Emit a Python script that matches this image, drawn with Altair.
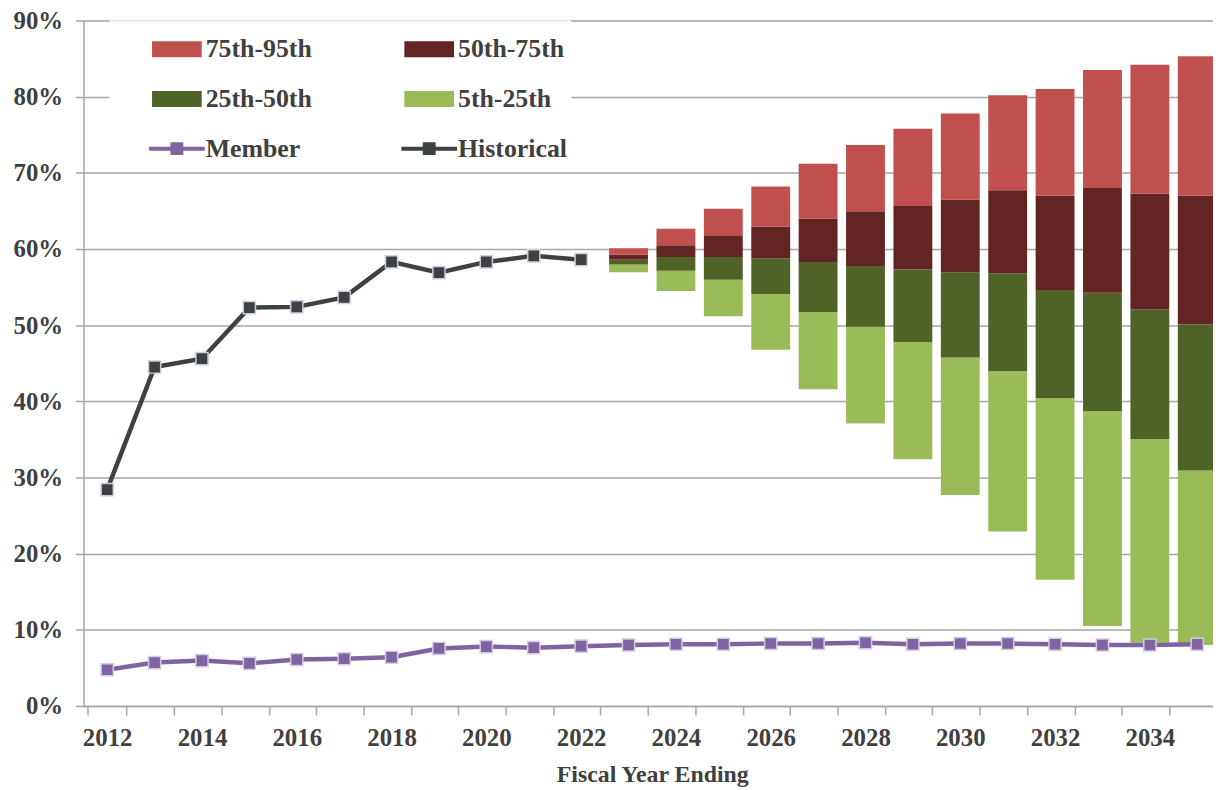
import altair as alt
import pandas as pd

# ---------------- data ----------------
years_all = list(range(2012, 2036))

hist_years = list(range(2012, 2023))
hist_vals = [28.4, 44.5, 45.6, 52.3, 52.4, 53.65, 58.3, 56.9, 58.3, 59.1, 58.6]

member_years = list(range(2012, 2036))
member_vals = [4.75, 5.7, 5.96, 5.6, 6.1, 6.2, 6.4, 7.55, 7.8, 7.65, 7.85, 8.0,
               8.1, 8.1, 8.2, 8.2, 8.3, 8.1, 8.2, 8.2, 8.1, 8.0, 8.0, 8.1]

proj_years = list(range(2023, 2036))
p95 = [60.1, 62.65, 65.3, 68.2, 71.2, 73.65, 75.8, 77.8, 80.2, 81.0, 83.5, 84.2, 85.3]
p75 = [59.25, 60.5, 61.8, 62.95, 64.0, 64.95, 65.65, 66.5, 67.7, 67.0, 68.0, 67.3, 67.0]
p50 = [58.6, 58.96, 58.96, 58.78, 58.3, 57.78, 57.3, 56.96, 56.8, 54.6, 54.26, 52.1, 50.1]
p25 = [57.95, 57.13, 55.95, 54.09, 51.74, 49.78, 47.78, 45.74, 43.96, 40.4, 38.74, 35.05, 30.9]
p5 = [56.96, 54.5, 51.17, 46.78, 41.6, 37.1, 32.4, 27.7, 22.9, 16.56, 10.5, 8.3, 8.0]

series_domain = ["75th-95th", "50th-75th", "25th-50th", "5th-25th", "Member", "Historical"]
series_colors = ["#C0504D", "#632523", "#4F6228", "#9BBB59", "#8064A2", "#3B4240"]

# ---------------- tables ----------------
rows = []
for i, yr in enumerate(proj_years):
    rows.append({"year": yr, "series": "5th-25th", "lo": p5[i], "hi": p25[i]})
    rows.append({"year": yr, "series": "25th-50th", "lo": p25[i], "hi": p50[i]})
    rows.append({"year": yr, "series": "50th-75th", "lo": p50[i], "hi": p75[i]})
    rows.append({"year": yr, "series": "75th-95th", "lo": p75[i], "hi": p95[i]})
bars_df = pd.DataFrame(rows)

lines_df = pd.concat([
    pd.DataFrame({"year": hist_years, "value": hist_vals, "series": "Historical"}),
    pd.DataFrame({"year": member_years, "value": member_vals, "series": "Member"}),
], ignore_index=True)

legend_df = pd.DataFrame({"series": series_domain})

# ---------------- styling ----------------
FONT = "Liberation Serif"
TXT = "#404040"
GRID = "#A6A6A6"

bar_path = "M-1,-0.32H1V0.32H-1Z"
line_path = ("M-1.12,-0.08H-0.26V-0.26H0.26V-0.08H1.12V0.08H0.26V0.26H-0.26V0.08H-1.12Z")
shape_range = [bar_path] * 4 + [line_path] * 2

color_scale = alt.Scale(domain=series_domain, range=series_colors)
y_scale = alt.Scale(domain=[0, 90], nice=False)

x_enc = alt.X(
    "year:O",
    scale=alt.Scale(domain=years_all, paddingInner=0.18, paddingOuter=0.09),
    axis=alt.Axis(
        title="Fiscal Year Ending",
        labelExpr="datum.value % 2 == 0 ? datum.value : ''",
        labelAngle=0,
        labelFont=FONT, labelFontSize=25, labelFontWeight="bold", labelColor=TXT,
        labelPadding=11,
        titleFont=FONT, titleFontSize=24, titleFontWeight="bold", titleColor=TXT,
        titlePadding=12,
        tickBand="extent", tickSize=9, tickColor=GRID, tickWidth=1.5,
        domainColor=GRID, domainWidth=1.5,
        grid=False,
    ),
)

y_axis = alt.Axis(
    values=list(range(0, 100, 10)),
    labelExpr="datum.value + '%'",
    labelFont=FONT, labelFontSize=25, labelFontWeight="bold", labelColor=TXT,
    labelPadding=13,
    tickSize=8, tickColor=GRID, tickWidth=1.5,
    domainColor=GRID, domainWidth=1.5,
    grid=True, gridColor=GRID, gridWidth=1.5,
    title=None,
)

bars = alt.Chart(bars_df).mark_bar().encode(
    x=x_enc,
    y=alt.Y("lo:Q", scale=y_scale, axis=y_axis),
    y2="hi:Q",
    color=alt.Color("series:N", scale=color_scale, legend=None),
)

lines = alt.Chart(lines_df).mark_line(strokeWidth=4.5).encode(
    x=x_enc,
    y=alt.Y("value:Q", scale=y_scale),
    color=alt.Color("series:N", scale=color_scale, legend=None),
)

points = alt.Chart(lines_df).mark_point(
    shape="square", filled=True, size=150, stroke="#D2CAE0", strokeWidth=1.5, opacity=1
).encode(
    x=x_enc,
    y=alt.Y("value:Q", scale=y_scale),
    color=alt.Color("series:N", scale=color_scale, legend=None),
)

leg = dict(
    orient="none", legendX=26, legendY=0, columns=2, direction="horizontal", title=None,
    labelFont=FONT, labelFontSize=26, labelFontWeight="bold", labelColor=TXT,
    labelLimit=0, labelOffset=4,
    symbolSize=2500, symbolStrokeWidth=0, symbolOffset=39, symbolOpacity=1,
    fillColor="white", padding=4, rowPadding=12, columnPadding=54,
)

legend_layer = alt.Chart(legend_df).transform_filter("datum.series == 'none'").mark_point(
    filled=True, opacity=1
).encode(
    color=alt.Color("series:N", scale=color_scale, legend=alt.Legend(**leg)),
    shape=alt.Shape("series:N", scale=alt.Scale(domain=series_domain, range=shape_range),
                    legend=alt.Legend(**leg)),
)

chart = alt.layer(bars, lines, points, legend_layer).resolve_legend(
    color="independent", shape="independent"
).properties(
    width=1145, height=690,
    autosize=alt.AutoSizeParams(type="none"),
    padding={"left": 76, "top": 10, "right": -8, "bottom": 82},
).configure_view(stroke=None).configure(background="white")

chart.save("out.html", embed_options={"renderer": "svg", "actions": False})
